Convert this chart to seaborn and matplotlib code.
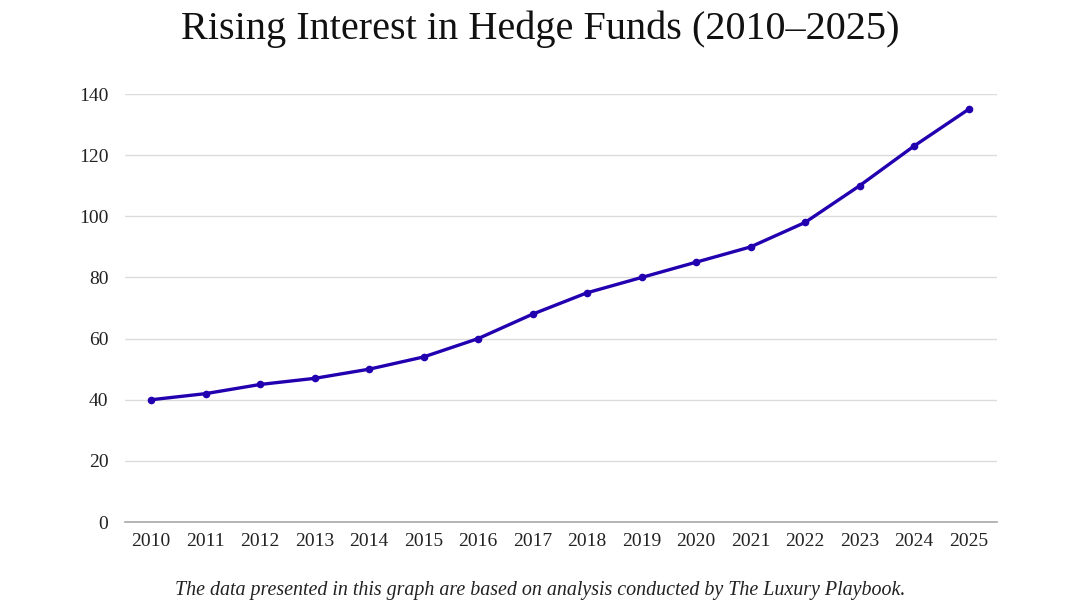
import matplotlib
matplotlib.use("Agg")
import matplotlib.pyplot as plt
import seaborn as sns
import pandas as pd

# chart data
years = ["2010", "2011", "2012", "2013", "2014", "2015", "2016", "2017",
         "2018", "2019", "2020", "2021", "2022", "2023", "2024", "2025"]
interest = [40, 42, 45, 47, 50, 54, 60, 68, 75, 80, 85, 90, 98, 110, 123, 135]
y_ticks = [0, 20, 40, 60, 80, 100, 120, 140]

title_text = "Rising Interest in Hedge Funds (2010\u20132025)"
footer_text = "The data presented in this graph are based on analysis conducted by The Luxury Playbook."

sns.set_theme(style="white")
plt.rcParams['font.family'] = ['Liberation Serif', 'DejaVu Serif']

df = pd.DataFrame({"year": years, "interest": interest})

fig = plt.figure(figsize=(10.8, 6.07), dpi=100)
ax = fig.add_axes([0.1157, 0.14, 0.8073, 0.705])

sns.lineplot(data=df, x="year", y="interest", ax=ax, color="#2200B0",
             linewidth=2.4, marker="o", markersize=5.5, markeredgewidth=0,
             sort=False)

ax.set_ylim(0, 140)
ax.set_xlim(-0.48, 15.52)
ax.set_yticks(y_ticks)
ax.yaxis.grid(True, color="#dcdcdc", linewidth=1)
ax.set_axisbelow(True)
for side in ["top", "right", "left"]:
    ax.spines[side].set_visible(False)
ax.spines["bottom"].set_color("#a8a8a8")
ax.spines["bottom"].set_linewidth(1.2)
ax.tick_params(axis="both", length=0, labelsize=14, colors="#222222", pad=8)
ax.tick_params(axis="y", pad=12)
ax.set_xlabel("")
ax.set_ylabel("")

fig.text(0.5, 0.952, title_text, ha="center", va="center", fontsize=29, color="#111111")
fig.text(0.5, 0.028, footer_text, ha="center", va="center", fontsize=14.4,
         style="italic", color="#222222")

fig.savefig("out.png", dpi=100, facecolor="white")
